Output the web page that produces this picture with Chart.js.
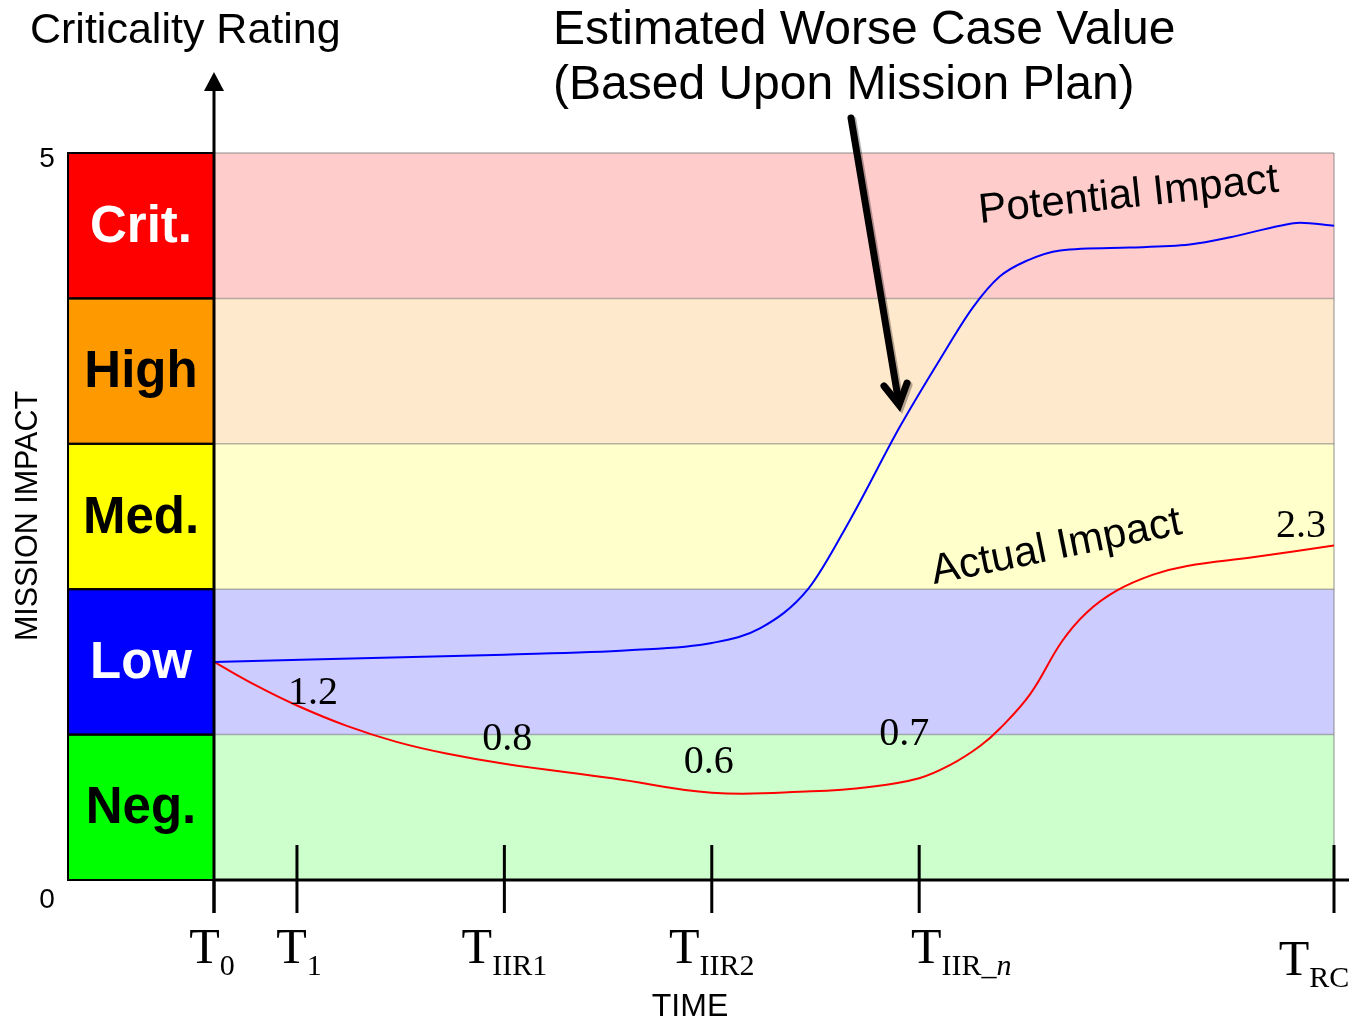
<!DOCTYPE html>
<html>
<head>
<meta charset="utf-8">
<script src="https://cdn.jsdelivr.net/npm/chart.js@4/dist/chart.umd.min.js"></script>
<style>
  html, body { margin: 0; padding: 0; background: #ffffff; }
  #wrap { width: 1349px; height: 1019px; }
</style>
</head>
<body>
<div id="wrap"><canvas id="chart" width="1349" height="1019"></canvas></div>
<script>
// Criticality bands, bottom to top (each band spans one unit of mission impact)
const bandNames = ['Neg.', 'Low', 'Med.', 'High', 'Crit.'];
const bandStrong = ['#00FF00', '#0000FF', '#FFFF00', '#FF9900', '#FF0000'];
const bandLight = ['#CCFFCC', '#CCCCFF', '#FFFFCC', '#FFE9CC', '#FFCCCC'];
const bandText = ['#000000', '#FFFFFF', '#000000', '#000000', '#FFFFFF'];

// Time milestones
const tickTimes = [0, 1, 3.5, 6, 8.5, 13.5];
const tickSubs = ['0', '1', 'IIR1', 'IIR2', 'IIR_n', 'RC'];

// Mission impact over time
const potentialTime = [0, 3.5, 5, 6, 6.58, 7.16, 7.67, 8.27, 8.75, 9.15, 9.47, 9.8, 10.2, 11.04, 11.76, 12.25, 12.85, 13.09, 13.5];
const potentialImpact = [1.5, 1.55, 1.58, 1.63, 1.73, 2.0, 2.48, 3.12, 3.58, 3.94, 4.15, 4.26, 4.33, 4.35, 4.37, 4.42, 4.5, 4.52, 4.5];

const actualTime = [0, 0.5, 1, 1.6, 2.2, 2.8, 3.5, 4.8, 6, 7.2, 7.9, 8.5, 8.87, 9.23, 9.47, 9.84, 10.22, 10.52, 10.88, 11.32, 11.73, 12.52, 13.5];
const actualImpact = [1.5, 1.34, 1.2, 1.06, 0.95, 0.87, 0.8, 0.7, 0.6, 0.61, 0.64, 0.7, 0.79, 0.92, 1.04, 1.28, 1.64, 1.84, 1.99, 2.1, 2.16, 2.22, 2.3];

// Stated values on the actual-impact curve
const calloutTime = [1, 3.5, 6, 8.5, 13.5];
const calloutValue = [1.2, 0.8, 0.6, 0.7, 2.3];

const toPoints = (xs, ys) => xs.map((x, i) => ({ x: x, y: ys[i] }));

const SANS = '"Liberation Sans", Arial, sans-serif';
const SERIF = '"Liberation Serif", "Times New Roman", serif';

const bandsPlugin = {
  id: 'bands',
  beforeDatasetsDraw(chart) {
    const { ctx, chartArea: a, scales: { y } } = chart;
    const boxLeft = a.left - 146;
    ctx.save();
    bandNames.forEach((name, i) => {
      const yTop = y.getPixelForValue(i + 1);
      const yBot = y.getPixelForValue(i);
      ctx.fillStyle = bandLight[i];
      ctx.fillRect(a.left, yTop, a.right - a.left, yBot - yTop);
      ctx.fillStyle = bandStrong[i];
      ctx.fillRect(boxLeft, yTop, a.left - boxLeft, yBot - yTop);
    });
    // faint separators on the light bands
    ctx.strokeStyle = 'rgba(120,120,120,0.55)';
    ctx.lineWidth = 1.5;
    for (let i = 0; i <= bandNames.length; i++) {
      const yy = y.getPixelForValue(i);
      ctx.beginPath(); ctx.moveTo(a.left, yy); ctx.lineTo(a.right, yy); ctx.stroke();
    }
    ctx.beginPath(); ctx.moveTo(a.right, a.top); ctx.lineTo(a.right, a.bottom); ctx.stroke();
    // black outlines on the rating boxes
    ctx.strokeStyle = '#000000';
    ctx.lineWidth = 2;
    bandNames.forEach((name, i) => {
      const yTop = y.getPixelForValue(i + 1);
      const yBot = y.getPixelForValue(i);
      ctx.strokeRect(boxLeft, yTop, a.left - boxLeft, yBot - yTop);
      ctx.fillStyle = bandText[i];
      ctx.font = 'bold 51px ' + SANS;
      ctx.textAlign = 'center';
      ctx.textBaseline = 'middle';
      ctx.fillText(name, (boxLeft + a.left) / 2, (yTop + yBot) / 2 + 2);
    });
    ctx.restore();
  }
};

// label offsets (px) relative to each stated point
const calloutOffsets = [[16, -2], [3, -14], [-3, -20], [-15, -33], [-33, -9]];
// tick-label offsets (px) relative to each tick
const tickLabelOffsets = [[-2, 0], [2, 0], [0, 0], [0, 0], [42, 0], [-20, 12]];

const overlayPlugin = {
  id: 'overlay',
  afterDatasetsDraw(chart) {
    const { ctx, chartArea: a, scales: { x, y } } = chart;
    const W = chart.width;
    ctx.save();

    // stated values
    ctx.fillStyle = '#000000';
    ctx.font = '40px ' + SERIF;
    ctx.textAlign = 'center';
    ctx.textBaseline = 'alphabetic';
    calloutTime.forEach((t, i) => {
      const px = x.getPixelForValue(t) + calloutOffsets[i][0];
      const py = y.getPixelForValue(calloutValue[i]) + calloutOffsets[i][1];
      ctx.fillText(calloutValue[i].toFixed(1), px, py);
    });

    // axes
    ctx.strokeStyle = '#000000';
    ctx.lineWidth = 3;
    ctx.beginPath(); ctx.moveTo(a.left, a.bottom); ctx.lineTo(W, a.bottom); ctx.stroke();
    ctx.beginPath(); ctx.moveTo(a.left, a.bottom + 33); ctx.lineTo(a.left, a.top - 64); ctx.stroke();
    ctx.fillStyle = '#000000';
    ctx.beginPath();
    ctx.moveTo(a.left, a.top - 81);
    ctx.lineTo(a.left - 10, a.top - 62);
    ctx.lineTo(a.left + 10, a.top - 62);
    ctx.closePath(); ctx.fill();

    // milestone ticks and labels
    tickTimes.forEach((t, i) => {
      const px = x.getPixelForValue(t);
      ctx.beginPath();
      ctx.moveTo(px, i === 0 ? a.bottom : a.bottom - 35);
      ctx.lineTo(px, a.bottom + 33);
      ctx.stroke();

      const sub = tickSubs[i];
      const italicTail = sub.endsWith('_n');
      const plain = italicTail ? sub.slice(0, -1) : sub;
      ctx.font = '50px ' + SERIF;
      const wT = ctx.measureText('T').width;
      ctx.font = '30px ' + SERIF;
      const wP = ctx.measureText(plain).width;
      ctx.font = 'italic 30px ' + SERIF;
      const wI = italicTail ? ctx.measureText('n').width : 0;
      const total = wT + wP + wI;
      let lx = px + tickLabelOffsets[i][0] - total / 2;
      const base = a.bottom + 83 + tickLabelOffsets[i][1];
      ctx.textAlign = 'left';
      ctx.font = '50px ' + SERIF;
      ctx.fillText('T', lx, base);
      lx += wT;
      ctx.font = '30px ' + SERIF;
      ctx.fillText(plain, lx, base + 12);
      lx += wP;
      if (italicTail) {
        ctx.font = 'italic 30px ' + SERIF;
        ctx.fillText('n', lx, base + 12);
      }
    });

    // axis end values
    ctx.font = '28px ' + SANS;
    ctx.textAlign = 'center';
    ctx.fillText('5', 47, y.getPixelForValue(5) + 14);
    ctx.fillText('0', 47, y.getPixelForValue(0) + 28);

    // axis titles
    ctx.font = '32px ' + SANS;
    ctx.fillText('TIME', 690, 1016);
    ctx.font = '30.5px ' + SANS;
    ctx.save();
    ctx.translate(37, 516);
    ctx.rotate(-Math.PI / 2);
    ctx.fillText('MISSION IMPACT', 0, 0);
    ctx.restore();

    // headings
    ctx.textAlign = 'left';
    ctx.font = '43px ' + SANS;
    ctx.fillText('Criticality Rating', 30, 43);
    ctx.font = '48px ' + SANS;
    ctx.fillText('Estimated Worse Case Value', 553, 44);
    ctx.fillText('(Based Upon Mission Plan)', 553, 99);

    // curve names
    ctx.font = '42px ' + SANS;
    ctx.save();
    ctx.translate(980, 223);
    ctx.rotate(-6.0 * Math.PI / 180);
    ctx.fillText('Potential Impact', 0, 0);
    ctx.restore();
    ctx.save();
    ctx.translate(934, 584);
    ctx.rotate(-11.4 * Math.PI / 180);
    ctx.fillText('Actual Impact', 0, 0);
    ctx.restore();

    // pointer to the worst-case estimate
    const drawPointer = (dx, dy, color) => {
      ctx.strokeStyle = color;
      ctx.lineWidth = 7;
      ctx.lineCap = 'round';
      ctx.lineJoin = 'miter';
      ctx.beginPath();
      ctx.moveTo(851 + dx, 118 + dy);
      ctx.lineTo(898 + dx, 398 + dy);
      ctx.stroke();
      ctx.beginPath();
      ctx.moveTo(884 + dx, 386 + dy);
      ctx.lineTo(899 + dx, 405 + dy);
      ctx.lineTo(907 + dx, 383 + dy);
      ctx.stroke();
    };
    drawPointer(2, 2, 'rgba(0,0,0,0.3)');
    drawPointer(0, 0, '#000000');

    ctx.restore();
  }
};

new Chart(document.getElementById('chart'), {
  type: 'line',
  data: {
    datasets: [
      {
        label: 'Potential Impact',
        data: toPoints(potentialTime, potentialImpact),
        borderColor: '#0000FF',
        borderWidth: 2,
        pointRadius: 0,
        cubicInterpolationMode: 'monotone',
        fill: false
      },
      {
        label: 'Actual Impact',
        data: toPoints(actualTime, actualImpact),
        borderColor: '#FF0000',
        borderWidth: 2,
        pointRadius: 0,
        tension: 0.4,
        fill: false
      }
    ]
  },
  options: {
    responsive: false,
    animation: false,
    devicePixelRatio: 1,
    layout: { padding: { left: 214, right: 15, top: 153, bottom: 139 } },
    plugins: { legend: { display: false }, tooltip: { enabled: false } },
    scales: {
      x: { type: 'linear', min: 0, max: 13.5, display: false },
      y: { type: 'linear', min: 0, max: 5, display: false }
    }
  },
  plugins: [bandsPlugin, overlayPlugin]
});
</script>
</body>
</html>
